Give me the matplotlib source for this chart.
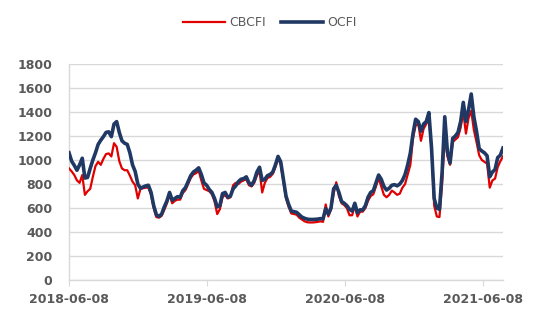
import numpy as np
import pandas as pd
import matplotlib
matplotlib.use("Agg")
import matplotlib.pyplot as plt
import matplotlib.dates as mdates

# weekly index values, first week 2018-06-08
start_date = "2018-06-08"

cbcfi = [930, 905, 875, 830, 810, 875, 710, 740, 760, 860,
         950, 985, 960, 1010, 1050, 1055, 1030, 1140, 1110, 990,
         930, 915, 915, 870, 820, 790, 680, 760, 765, 770,
         770, 710, 600, 525, 520, 535, 585, 640, 710, 640,
         660, 670, 670, 725, 750, 800, 850, 880, 890, 910,
         830, 760, 750, 740, 715, 655, 550, 590, 690, 710,
         680, 690, 790, 810, 800, 820, 830, 840, 790, 780,
         810, 870, 910, 730, 810, 850, 860, 885, 940, 1010,
         965, 820, 680, 610, 555, 550, 545, 520, 505, 490,
         482, 480, 480, 482, 485, 490, 485, 630, 530, 590,
         720, 815, 700, 640, 625, 600, 540, 540, 620, 530,
         570, 570, 600, 660, 700, 715, 780, 850, 780, 710,
         690, 710, 745, 730, 710, 720, 770, 800, 880, 960,
         1180, 1290, 1300, 1160, 1260, 1300, 1340, 1100, 620, 530,
         525, 800, 1200, 1030, 960, 1150, 1170, 1190, 1270, 1400,
         1220, 1350, 1410, 1250, 1150, 1040, 1000, 985, 970, 770,
         830, 845, 940, 990, 1030]

ocfi = [1060, 990, 955, 915, 960, 1015, 850, 855, 930, 1000,
        1060, 1130, 1165, 1195, 1230, 1235, 1195, 1300, 1320, 1230,
        1160, 1140, 1130, 1060, 960, 905, 800, 765, 775, 785,
        790, 730, 620, 545, 530, 550, 610, 660, 730, 665,
        680, 695, 690, 745, 770, 820, 870, 900, 915, 935,
        880, 810, 790, 755, 730, 680, 610, 620, 720, 730,
        690, 700, 760, 785, 820, 840, 845, 860, 810, 790,
        830, 900, 940, 830, 840, 870, 880, 900, 960, 1030,
        985, 840, 700, 630, 575, 570, 565, 545, 525, 515,
        508, 505, 505, 506, 508, 512, 510, 595, 550, 600,
        760, 790, 730, 655, 640, 620, 590, 575, 640, 560,
        585, 585, 620, 690, 730, 745, 810, 875, 840, 780,
        750, 765, 790, 795, 785, 800, 830, 880, 960, 1060,
        1220, 1340, 1320, 1240, 1300, 1320, 1395, 1100, 680, 600,
        590, 900, 1360, 1070, 975, 1180, 1200, 1230, 1320, 1480,
        1320, 1420, 1550, 1360, 1240, 1095, 1075, 1060, 1035, 860,
        900, 920, 1020, 1040, 1100]

tick_dates = ["2018-06-08", "2019-06-08", "2020-06-08", "2021-06-08"]
y_ticks = [0, 200, 400, 600, 800, 1000, 1200, 1400, 1600, 1800]

dates = pd.date_range(start_date, periods=len(ocfi), freq="7D")

fig = plt.figure(figsize=(5.5, 3.28), dpi=100)
ax = fig.add_axes([0.1255, 0.146, 0.789, 0.659])

ax.plot(dates, cbcfi, color="#E00000", lw=1.6, label="CBCFI", zorder=3)
ax.plot(dates, ocfi, color="#203864", lw=2.6, label="OCFI", zorder=4)

ax.set_xlim(dates[0], dates[-1])
ax.set_ylim(0, 1800)
ax.set_yticks(y_ticks)
ax.set_xticks(pd.to_datetime(tick_dates))
ax.xaxis.set_major_formatter(mdates.DateFormatter("%Y-%m-%d"))

ax.grid(axis="y", color="#D9D9D9", lw=1)
ax.set_axisbelow(True)
for s in ["top", "right"]:
    ax.spines[s].set_visible(False)
for s in ["bottom", "left"]:
    ax.spines[s].set_color("#D9D9D9")
    ax.spines[s].set_linewidth(1)
ax.tick_params(axis="y", length=0, pad=12, labelsize=9, labelcolor="#595959")
ax.tick_params(axis="x", length=4, color="#D9D9D9", pad=5, labelsize=9,
               labelcolor="#595959")
for lab in ax.get_xticklabels() + ax.get_yticklabels():
    lab.set_fontweight("bold")

fig.legend(loc="upper center", bbox_to_anchor=(0.49, 0.985), ncol=2,
           frameon=False, fontsize=9, handlelength=3.4, columnspacing=1.2,
           handletextpad=0.3, labelcolor="#595959")

fig.savefig("out.png", dpi=100)
